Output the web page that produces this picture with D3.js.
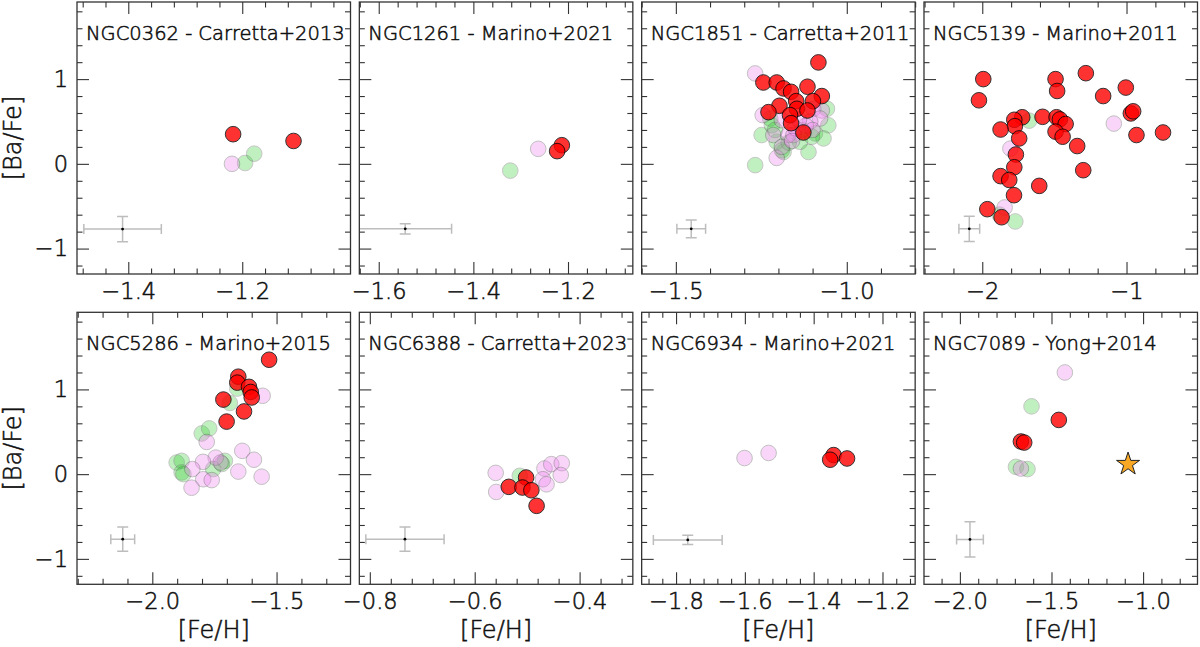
<!DOCTYPE html>
<html><head><meta charset="utf-8">
<script src="https://cdn.jsdelivr.net/npm/d3@7/dist/d3.min.js"></script>
<style>
body{margin:0;background:#fff;}
text{font-family:"DejaVu Sans",sans-serif;fill:#111;stroke:#111;stroke-width:0.55px;font-weight:300;}
</style>
</head><body>
<svg id="chart" width="1200" height="647"></svg>
<script>
// ---------------- data ----------------
const titles = ["NGC0362 - Carretta+2013","NGC1261 - Marino+2021","NGC1851 - Carretta+2011","NGC5139 - Marino+2011",
                "NGC5286 - Marino+2015","NGC6388 - Carretta+2023","NGC6934 - Marino+2021","NGC7089 - Yong+2014"];
const xDomains = [[-1.49,-1.01],[-1.641,-1.063],[-1.6,-0.8],[-2.404,-0.508],
                  [-2.303,-1.2025],[-0.82,-0.2985],[-1.9,-1.105],[-2.196,-0.703]];
const xMajorTicks = [[-1.4,-1.2],[-1.6,-1.4,-1.2],[-1.5,-1.0],[-2,-1],
                     [-2.0,-1.5],[-0.8,-0.6,-0.4],[-1.8,-1.6,-1.4,-1.2],[-2.0,-1.5,-1.0]];
const xMinorSteps = [0.04,0.04,0.1,0.2,0.1,0.04,0.04,0.1];
const xTickFormats = [".1f",".1f",".1f","d",".1f",".1f",".1f",".1f"];
const yDomain = [-1.3,1.91];
const yMajorTicks = [-1,0,1];
const yMinorStep = 0.2;

const greenPts = [
  [[-1.195,0.01],[-1.179,0.12]],
  [[-1.322,-0.08]],
  [[-1.268,-0.015],[-1.249,0.34],[-1.112,0.14],[-1.185,0.14],[-1.054,0.455],[-1.058,0.65],[-1.219,0.455],
   [-1.093,0.36],[-1.224,0.535],[-1.137,0.26],[-1.205,0.26],[-1.068,0.30],[-1.19,0.16],[-1.102,0.32],
   [-1.17,0.25],[-1.13,0.40],[-1.21,0.40]],
  [[-1.675,0.51],[-1.771,-0.68],[-1.88,-0.6]],
  [[-1.658,1.01],[-1.688,0.84],[-1.801,0.48],[-1.771,0.54],[-1.902,0.137],[-1.882,0.157],[-1.882,0.02],
   [-1.875,0.0],[-1.708,0.157],[-1.755,0.06],[-1.72,0.12]],
  [[-0.514,-0.02]],
  [],
  [[-1.609,0.80],[-1.694,0.086],[-1.631,0.06]]
];
const violetPts = [
  [[-1.218,0.0]],
  [[-1.263,0.177]],
  [[-1.268,1.067],[-1.246,0.575],[-1.205,0.07],[-1.171,0.34],[-1.098,0.65],[-1.073,0.63],[-1.078,0.535],
   [-1.156,0.34],[-1.215,0.34],[-1.107,0.50],[-1.19,0.515],[-1.15,0.42],[-1.12,0.45],
   [-1.19,0.20],[-1.16,0.27],[-1.10,0.40],[-1.14,0.52]],
  [[-1.088,0.475],[-1.805,0.18],[-1.845,-0.515]],
  [[-1.556,0.925],[-1.781,0.38],[-1.638,0.275],[-1.591,0.17],[-1.745,0.195],[-1.796,0.145],[-1.839,0.06],
   [-1.654,0.03],[-1.56,-0.03],[-1.795,-0.06],[-1.761,-0.07],[-1.842,-0.16],[-1.725,0.137]],
  [[-0.560,0.015],[-0.559,-0.21],[-0.467,0.067],[-0.454,0.118],[-0.434,0.13],[-0.436,-0.01],[-0.470,-0.06],[-0.463,-0.12]],
  [[-1.601,0.19],[-1.531,0.25]],
  [[-1.427,1.2],[-1.667,0.066]]
];
const redPts = [
  [[-1.216,0.35],[-1.110,0.27]],
  [[-1.213,0.22],[-1.223,0.15]],
  [[-1.083,1.197],[-1.244,0.96],[-1.205,0.96],[-1.185,0.89],[-1.163,0.85],[-1.115,0.91],[-1.073,0.80],
   [-1.099,0.74],[-1.148,0.74],[-1.146,0.65],[-1.197,0.685],[-1.229,0.61],[-1.115,0.63],[-1.166,0.575],
   [-1.163,0.48],[-1.127,0.37]],
  [[-1.993,1.0],[-2.023,0.75],[-1.492,1.0],[-1.481,0.86],[-1.282,1.07],[-1.005,0.90],[-1.162,0.80],
   [-0.970,0.595],[-0.954,0.62],[-0.931,0.34],[-0.747,0.37],[-1.582,0.555],[-1.723,0.55],[-1.778,0.52],
   [-1.774,0.445],[-1.873,0.405],[-1.744,0.30],[-1.485,0.55],[-1.462,0.525],[-1.422,0.47],[-1.492,0.38],
   [-1.443,0.32],[-1.342,0.21],[-1.767,0.11],[-1.778,-0.04],[-1.873,-0.145],[-1.813,-0.19],[-1.30,-0.075],
   [-1.605,-0.26],[-1.78,-0.37],[-1.965,-0.535],[-1.866,-0.63]],
  [[-1.530,1.35],[-1.654,1.15],[-1.658,1.08],[-1.611,1.03],[-1.604,0.97],[-1.600,0.905],[-1.714,0.88],
   [-1.631,0.74],[-1.701,0.62]],
  [[-0.502,-0.04],[-0.535,-0.15],[-0.509,-0.158],[-0.492,-0.19],[-0.482,-0.374]],
  [[-1.342,0.225],[-1.352,0.17],[-1.303,0.185]],
  [[-1.460,0.64],[-1.667,0.385],[-1.649,0.373]]
];
const starPts = [[],[],[],[],[],[],[],[[-1.082,0.118]]];
// error bars: [x, y, xerr, yerr]
const errorBars = [[-1.41,-0.77,0.068,0.148],[-1.544,-0.767,0.098,0.06],[-1.455,-0.767,0.042,0.105],[-2.09,-0.767,0.072,0.15],
                   [-2.119,-0.767,0.048,0.144],[-0.733,-0.767,0.0746,0.142],[-1.766,-0.776,0.1,0.055],[-1.945,-0.77,0.073,0.207]];
const xLabel = "[Fe/H]", yLabel = "[Ba/Fe]";

// ---------------- layout ----------------
const svg = d3.select("#chart");
const pw = 273.5, ph = 272, left0 = 77, gap = 8.83;
const rowTops = [2, 312.3];
const majorLen = 12, minorLen = 5.5;

function minorVals(domain, step, majors) {
  const lo = Math.min(domain[0], domain[1]), hi = Math.max(domain[0], domain[1]);
  const start = Math.ceil(lo/step - 1e-6);
  const out = [];
  for (let k = start; k*step <= hi + 1e-9; k++) {
    const v = +(k*step).toFixed(6);
    if (!majors.some(m => Math.abs(m - v) < 1e-6)) out.push(v);
  }
  return out;
}

const defs = svg.append("defs");

for (let i = 0; i < 8; i++) {
  const col = i % 4, row = Math.floor(i / 4);
  const px = left0 + col*(pw + gap), py = rowTops[row];
  const g = svg.append("g").attr("transform", `translate(${px},${py})`);
  const x = d3.scaleLinear().domain(xDomains[i]).range([0, pw]);
  const y = d3.scaleLinear().domain(yDomain).range([ph, 0]);

  defs.append("clipPath").attr("id", "clip"+i).append("rect").attr("width", pw).attr("height", ph);
  const plot = g.append("g").attr("clip-path", `url(#clip${i})`);

  // error bar
  const [ex, ey, dx, dy] = errorBars[i];
  const eb = plot.append("g").attr("stroke", "#bdbdbd").attr("stroke-width", 1.5).attr("fill", "none");
  eb.append("line").attr("x1", x(ex-dx)).attr("x2", x(ex+dx)).attr("y1", y(ey)).attr("y2", y(ey));
  eb.append("line").attr("x1", x(ex)).attr("x2", x(ex)).attr("y1", y(ey-dy)).attr("y2", y(ey+dy));
  [ex-dx, ex+dx].forEach(v => eb.append("line").attr("x1", x(v)).attr("x2", x(v)).attr("y1", y(ey)-5).attr("y2", y(ey)+5));
  [ey-dy, ey+dy].forEach(v => eb.append("line").attr("y1", y(v)).attr("y2", y(v)).attr("x1", x(ex)-5.5).attr("x2", x(ex)+5.5));
  plot.append("circle").attr("cx", x(ex)).attr("cy", y(ey)).attr("r", 1.4).attr("fill", "#000");

  // scatter
  plot.append("g").selectAll("circle").data(greenPts[i]).join("circle")
    .attr("cx", d => x(d[0])).attr("cy", d => y(d[1])).attr("r", 7.8)
    .attr("fill", "#32cd32").attr("stroke", "#444").attr("stroke-width", 1).attr("opacity", 0.3);
  plot.append("g").selectAll("circle").data(violetPts[i]).join("circle")
    .attr("cx", d => x(d[0])).attr("cy", d => y(d[1])).attr("r", 7.8)
    .attr("fill", "#ee82ee").attr("stroke", "#444").attr("stroke-width", 1).attr("opacity", 0.33);
  plot.append("g").selectAll("circle").data(redPts[i]).join("circle")
    .attr("cx", d => x(d[0])).attr("cy", d => y(d[1])).attr("r", 7.8)
    .attr("fill", "#ff0000").attr("stroke", "#000").attr("stroke-width", 1).attr("opacity", 0.8);
  plot.append("g").selectAll("path").data(starPts[i]).join("path")
    .attr("d", d3.symbol(d3.symbolStar, 165)())
    .attr("transform", d => `translate(${x(d[0])},${y(d[1])})`)
    .attr("fill", "#f9a825").attr("stroke", "#222").attr("stroke-width", 1);

  // axes (ticks pointing inward)
  const fmt = d3.format(xTickFormats[i]);
  const xMin = minorVals(xDomains[i], xMinorSteps[i], xMajorTicks[i]);
  const yMin = minorVals(yDomain, yMinorStep, yMajorTicks);

  g.append("g").attr("transform", `translate(0,${ph})`)
    .call(d3.axisBottom(x).tickValues(xMajorTicks[i]).tickFormat(fmt).tickSize(-majorLen).tickPadding(9));
  g.append("g").attr("transform", `translate(0,${ph})`)
    .call(d3.axisBottom(x).tickValues(xMin).tickFormat("").tickSize(-minorLen));
  g.append("g").call(d3.axisTop(x).tickValues(xMajorTicks[i]).tickFormat("").tickSize(-majorLen));
  g.append("g").call(d3.axisTop(x).tickValues(xMin).tickFormat("").tickSize(-minorLen));

  g.append("g")
    .call(d3.axisLeft(y).tickValues(yMajorTicks).tickFormat(col === 0 ? d3.format("d") : "").tickSize(-majorLen).tickPadding(9));
  g.append("g").call(d3.axisLeft(y).tickValues(yMin).tickFormat("").tickSize(-minorLen));
  g.append("g").attr("transform", `translate(${pw},0)`)
    .call(d3.axisRight(y).tickValues(yMajorTicks).tickFormat("").tickSize(-majorLen));
  g.append("g").attr("transform", `translate(${pw},0)`)
    .call(d3.axisRight(y).tickValues(yMin).tickFormat("").tickSize(-minorLen));

  g.selectAll(".domain").remove();
  g.selectAll(".tick line").attr("stroke", "#333").attr("stroke-width", 1.1);
  g.selectAll(".tick text").style("font-family", '"DejaVu Sans",sans-serif').style("font-weight", "300")
    .style("font-size", "22.5px").attr("fill", "#111").style("stroke", "#111").style("stroke-width", "0.55px");

  // frame
  g.append("rect").attr("width", pw).attr("height", ph).attr("fill", "none").attr("stroke", "#333").attr("stroke-width", 1.3);

  // title
  g.append("text").attr("x", 9).attr("y", 38).style("font-size", "19.5px").text(titles[i]);

  if (row === 1) {
    g.append("text").attr("x", pw/2).attr("y", ph + 54).attr("text-anchor", "middle")
      .style("font-size", "24px").text(xLabel);
  }
  if (col === 0) {
    g.append("text").attr("transform", `translate(${12.5 - px},${ph/2}) rotate(-90)`)
      .attr("text-anchor", "middle").attr("dominant-baseline", "central")
      .style("font-size", "24px").text(yLabel);
  }
}
</script>
</body></html>
